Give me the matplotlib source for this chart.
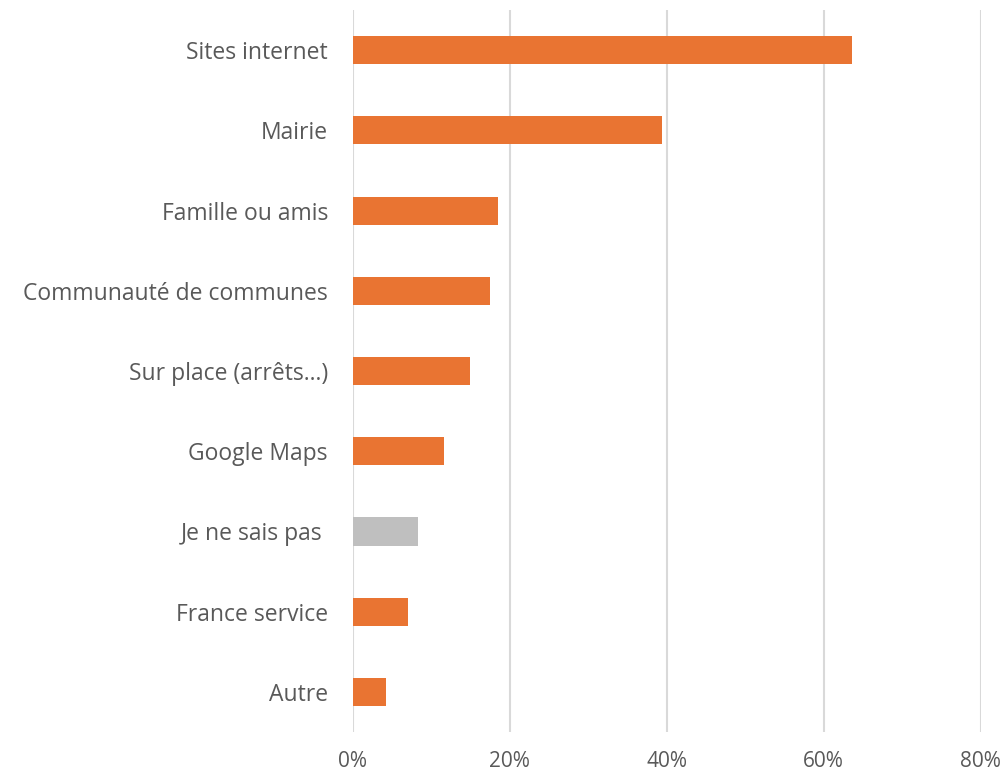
import matplotlib
matplotlib.use("Agg")
import matplotlib.pyplot as plt
from matplotlib.ticker import PercentFormatter

categories = ["Sites internet", "Mairie", "Famille ou amis", "Communauté de communes",
              "Sur place (arrêts…)", "Google Maps", "Je ne sais pas ", "France service", "Autre"]
values = [63.6, 39.4, 18.5, 17.5, 14.9, 11.6, 8.3, 7.0, 4.2]
colors = ["#E97432"] * 6 + ["#BFBFBF"] + ["#E97432"] * 2
x_ticks = [0, 20, 40, 60, 80]

plt.rcParams["font.family"] = ["Open Sans", "DejaVu Sans"]

fig = plt.figure(figsize=(10.05, 7.73), dpi=100)
ax = fig.add_axes([0.3512, 0.053, 0.6245, 0.934])

pos = list(range(len(categories)))
ax.barh(pos, values, height=0.35, color=colors, zorder=3)
ax.set_ylim(len(categories) - 0.5, -0.5)
ax.set_xlim(0, 80)
ax.set_xticks(x_ticks)
ax.xaxis.set_major_formatter(PercentFormatter(decimals=0))
ax.set_yticks(pos)
ax.set_yticklabels(categories)

ax.grid(axis="x", color="#D9D9D9", linewidth=1.5, zorder=0)
for s in ax.spines.values():
    s.set_visible(False)
ax.tick_params(axis="both", length=0, labelcolor="#595959")
ax.tick_params(axis="y", pad=18, labelsize=16.5)
ax.tick_params(axis="x", pad=14, labelsize=15)

fig.savefig("out.png", dpi=100, facecolor="white")
